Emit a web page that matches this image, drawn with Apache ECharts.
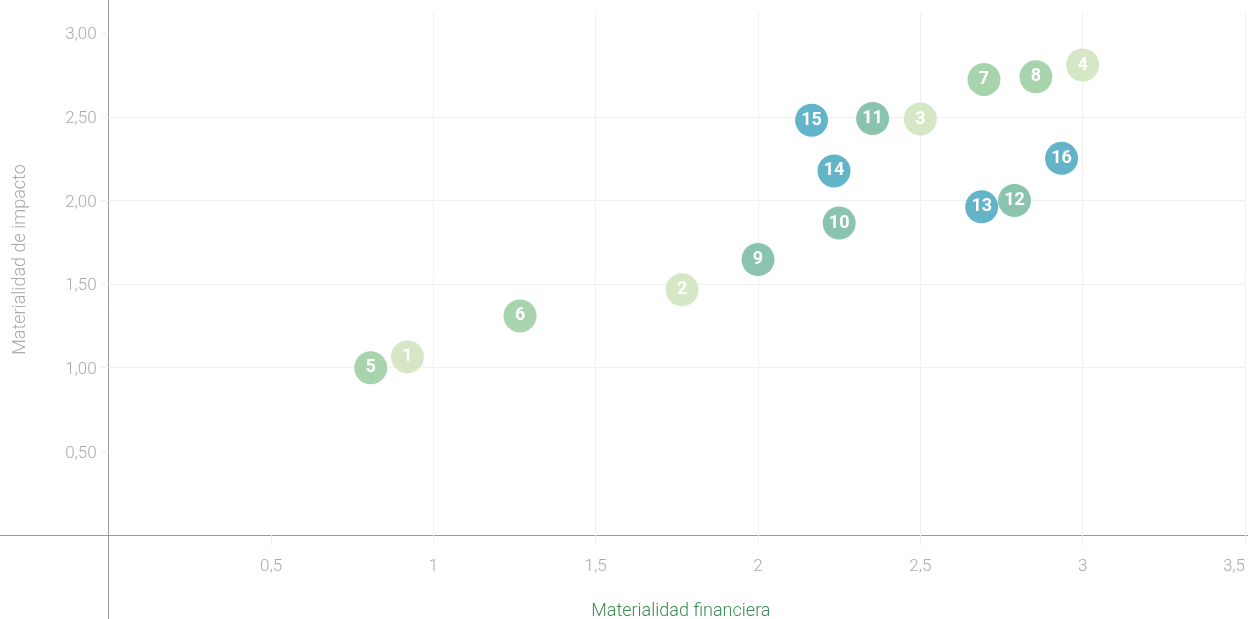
<!DOCTYPE html>
<html>
<head>
<meta charset="utf-8">
<script src="https://cdn.jsdelivr.net/npm/echarts@6/dist/echarts.min.js"></script>
<style>
html,body{margin:0;padding:0;background:#fff;}
#chart{width:1248px;height:619px;}
</style>
</head>
<body>
<div id="chart"></div>
<script>
// ---- data ----
const groupNames = ['Grupo A', 'Grupo B', 'Grupo C', 'Grupo D'];
const groupColors = ['#d5e7c5', '#a7d4ad', '#8bc4ae', '#63b4c9'];
const groupA = [ // [x, y, id]
  [0.92, 1.065, 1], [1.766, 1.466, 2], [2.50, 2.487, 3], [3.0, 2.81, 4]
];
const groupB = [
  [0.807, 1.0, 5], [1.267, 1.31, 6], [2.696, 2.724, 7], [2.856, 2.74, 8]
];
const groupC = [
  [2.0, 1.647, 9], [2.25, 1.865, 10], [2.353, 2.49, 11], [2.79, 2.0, 12]
];
const groupD = [
  [2.689, 1.962, 13], [2.234, 2.177, 14], [2.165, 2.48, 15], [2.935, 2.252, 16]
];
const xTicks = [0.5, 1, 1.5, 2, 2.5, 3, 3.5];
const yTicks = [0.5, 1, 1.5, 2, 2.5, 3];
const xName = 'Materialidad financiera';
const yName = 'Materialidad de impacto';

const groups = [groupA, groupB, groupC, groupD];
const font = 'Roboto, "Noto Sans", sans-serif';

const chart = echarts.init(document.getElementById('chart'), null, {renderer: 'canvas'});
const option = {
  animation: false,
  backgroundColor: '#fff',
  grid: [
    {left: 0, right: 0, top: 0, bottom: 0, containLabel: false, outerBoundsMode: 'none'},
    {left: 108.7, right: 3, top: 12, bottom: 84, containLabel: false, outerBoundsMode: 'none'}
  ],
  xAxis: [
    {
      gridIndex: 0, type: 'value', min: -0.3348, max: 3.509,
      axisLine: {show: true, onZero: true, lineStyle: {color: '#9a9a9a', width: 1}},
      axisTick: {show: false}, axisLabel: {show: false}, splitLine: {show: false}
    },
    {
      gridIndex: 1, type: 'value', min: 0, max: 3.5, interval: 0.5,
      name: xName, nameLocation: 'middle', nameGap: 67,
      nameTextStyle: {color: '#3a8a52', fontSize: 18, fontFamily: font, fontWeight: 300, padding: [0, 0, 0, 8]},
      axisLine: {show: false},
      axisTick: {show: true, length: 10, customValues: xTicks, lineStyle: {color: '#eeeeee'}},
      axisLabel: {
        show: true, margin: 23, color: '#aaaaaa', fontSize: 17, fontFamily: font, fontWeight: 300,
        customValues: xTicks, alignMaxLabel: 'right',
        formatter: v => String(v).replace('.', ',')
      },
      splitLine: {show: true, showMinLine: false, lineStyle: {color: '#f0f0f0', width: 1}}
    }
  ],
  yAxis: [
    {
      gridIndex: 0, type: 'value', min: -0.5, max: 3.196,
      axisLine: {show: true, onZero: true, lineStyle: {color: '#9a9a9a', width: 1}},
      axisTick: {show: false}, axisLabel: {show: false}, splitLine: {show: false}
    },
    {
      gridIndex: 1, type: 'value', min: 0, max: 3.127, interval: 0.5,
      name: yName, nameLocation: 'middle', nameGap: 79, nameRotate: 90,
      nameTextStyle: {color: '#aaaaaa', fontSize: 18, fontFamily: font, fontWeight: 300, padding: [0, 0, 0, 28]},
      axisLine: {show: false},
      axisTick: {show: true, length: 8, customValues: yTicks, lineStyle: {color: '#f0f0f0'}},
      axisLabel: {
        show: true, margin: 12, color: '#aaaaaa', fontSize: 17, fontFamily: font, fontWeight: 300,
        customValues: yTicks, lineHeight: 4, verticalAlign: 'top',
        formatter: v => v.toFixed(2).replace('.', ',')
      },
      splitLine: {show: true, showMinLine: false, showMaxLine: false, lineStyle: {color: '#f0f0f0', width: 1}}
    }
  ],
  series: groups.map((g, i) => ({
    type: 'scatter',
    name: groupNames[i],
    xAxisIndex: 1, yAxisIndex: 1,
    symbol: 'circle', symbolSize: 33,
    itemStyle: {color: groupColors[i], opacity: 1},
    label: {
      show: true, position: 'inside', color: '#ffffff', fontSize: 18, fontWeight: 'bold',
      fontFamily: font,
      formatter: p => String(p.data[2])
    },
    emphasis: {disabled: true},
    data: g
  }))
};
chart.setOption(option);
</script>
</body>
</html>
